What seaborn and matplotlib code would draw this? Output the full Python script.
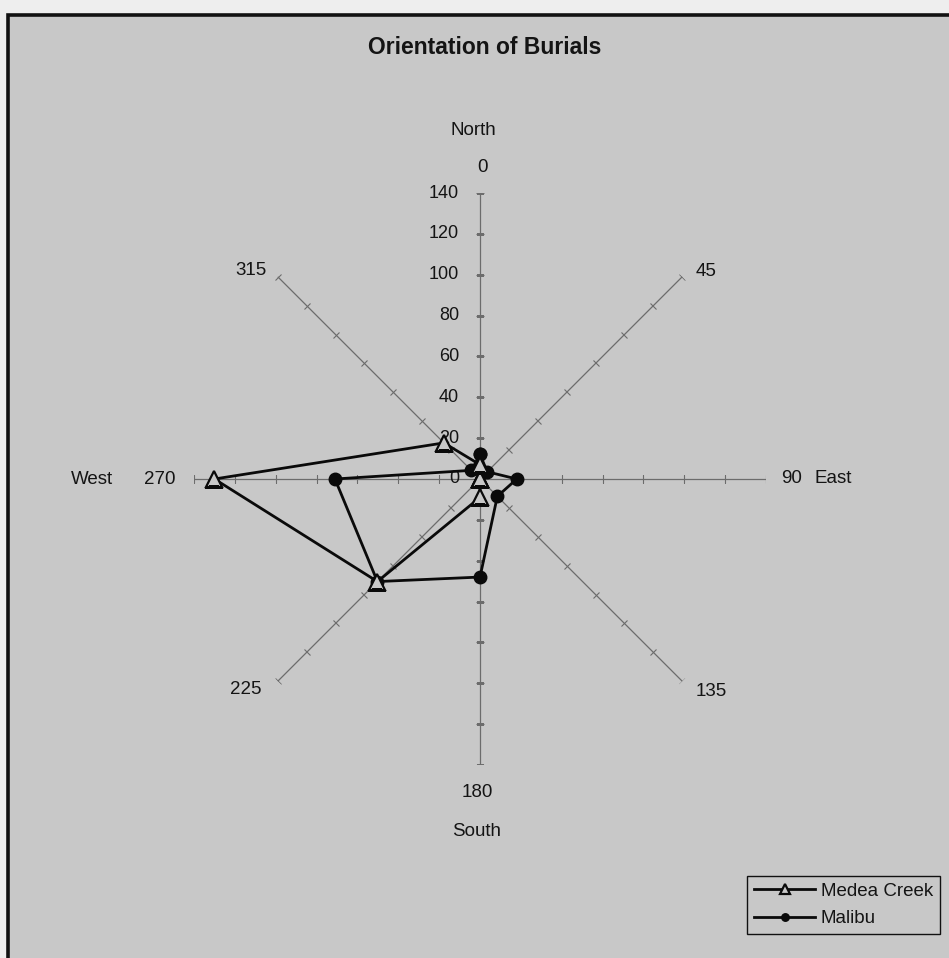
import numpy as np
import pandas as pd
import matplotlib
matplotlib.use("Agg")
import matplotlib.pyplot as plt
from matplotlib.markers import MarkerStyle
from matplotlib.transforms import Affine2D
from matplotlib.patches import Rectangle
import seaborn as sns

# ---------------- data ----------------
directions = [0, 45, 90, 135, 180, 225, 270, 315]
direction_labels = ["0", "45", "90", "135", "180", "225", "270", "315"]
compass_dirs = [0, 90, 180, 270]
compass_labels = ["North", "East", "South", "West"]
medea_creek = [7, 0, 0, 0, 9, 71, 130, 25]
malibu = [12, 5, 18, 12, 48, 71, 71, 6]
radial_ticks = [0, 20, 40, 60, 80, 100, 120, 140]
series_names = ["Medea Creek", "Malibu"]
title = "Orientation of Burials"

# ---------------- style ----------------
plt.rcParams["font.family"] = ["Liberation Sans", "DejaVu Sans"]
BG = "#c8c8c8"
TXT = "#141414"
SPOKE = "#6c6c6c"
FS = 13.5

W, H = 949, 958
fig = plt.figure(figsize=(W / 100, H / 100), dpi=100, facecolor="#eeeeee")

# scanned page frame
frame = Rectangle((8 / W, -0.1), 1.2, (H - 15) / H + 0.1, transform=fig.transFigure,
                  facecolor=BG, edgecolor="#111111", linewidth=2.6, zorder=0)
fig.add_artist(frame)

cx, cy, R = 480, 479, 286
ax = fig.add_axes([(cx - R) / W, (H - cy - R) / H, 2 * R / W, 2 * R / H], projection="polar")
ax.set_theta_zero_location("N")
ax.set_theta_direction(-1)
ax.set_ylim(0, radial_ticks[-1])
ax.grid(False)
ax.set_xticks([])
ax.set_yticks([])
ax.spines["polar"].set_visible(False)
ax.patch.set_alpha(0)

rmax = radial_ticks[-1]
for d in directions:
    th = np.deg2rad(d)
    ax.plot([th, th], [0, rmax], color=SPOKE, lw=0.9, zorder=1)
    ms = MarkerStyle("_", transform=Affine2D().rotate_deg(-d))
    ax.plot(np.full(len(radial_ticks) - 1, th), radial_ticks[1:], linestyle="none",
            marker=ms, markersize=6, markeredgewidth=0.8, color=SPOKE, zorder=1)

# radial value labels on the north axis
for v in radial_ticks:
    ax.annotate(str(v), xy=(0, v), xytext=(-15, 0), textcoords="offset points",
                ha="right", va="center", fontsize=13, color=TXT)

# direction labels (angle, radius) placement
label_pos = {0: (0.5, 152.7), 45: (47.4, 150.3), 90: (90, 152.7), 135: (132.6, 154),
             180: (180.5, 153.7), 225: (228, 154), 270: (270, 156.6), 315: (312.3, 151.6)}
for d, lab in zip(directions, direction_labels):
    a, r = label_pos[d]
    ax.text(np.deg2rad(a), r, lab, ha="center", va="center", fontsize=FS, color=TXT)

compass_pos = {0: (-1.1, 170.8), 90: (90, 172.8), 180: (180.6, 172.8), 270: (270, 189.7)}
for d, lab in zip(compass_dirs, compass_labels):
    a, r = compass_pos[d]
    ax.text(np.deg2rad(a), r, lab, ha="center", va="center", fontsize=FS, color=TXT)

# series
theta_closed = np.deg2rad(directions + [360])
df_m = pd.DataFrame({"theta": theta_closed, "r": medea_creek + [medea_creek[0]]})
df_b = pd.DataFrame({"theta": theta_closed, "r": malibu + [malibu[0]]})

sns.lineplot(data=df_b, x="theta", y="r", sort=False, estimator=None, ax=ax,
             color="#0a0a0a", marker="o", markersize=9, markerfacecolor="#0a0a0a",
             markeredgecolor="#0a0a0a", markeredgewidth=1, linewidth=2.0,
             label=series_names[1], legend=False, zorder=3)
sns.lineplot(data=df_m, x="theta", y="r", sort=False, estimator=None, ax=ax,
             color="#0a0a0a", marker="^", markersize=11, markerfacecolor=BG,
             markeredgecolor="#0a0a0a", markeredgewidth=1.6, linewidth=2.0,
             label=series_names[0], legend=False, zorder=4)
ax.set_xlabel("")
ax.set_ylabel("")
ax.set_ylim(0, rmax)

fig.text(485 / W, 1 - 47.5 / H, title, ha="center", va="center", fontsize=16.5,
         fontweight="bold", color=TXT)

handles, labels = ax.get_legend_handles_labels()
order = [labels.index(n) for n in series_names]
leg = fig.legend([handles[i] for i in order], [labels[i] for i in order],
                 loc="upper left", bbox_to_anchor=(747 / W, 1 - 876 / H),
                 bbox_transform=fig.transFigure, borderaxespad=0, frameon=True,
                 fancybox=False, edgecolor="#111111", facecolor=BG, framealpha=1,
                 fontsize=FS, handlelength=3.3, handletextpad=0.28, labelspacing=0.55,
                 borderpad=0.35, markerscale=0.6)
leg.get_frame().set_linewidth(1.0)
for t in leg.get_texts():
    t.set_color(TXT)

fig.savefig("out.png", dpi=100, facecolor=fig.get_facecolor())
